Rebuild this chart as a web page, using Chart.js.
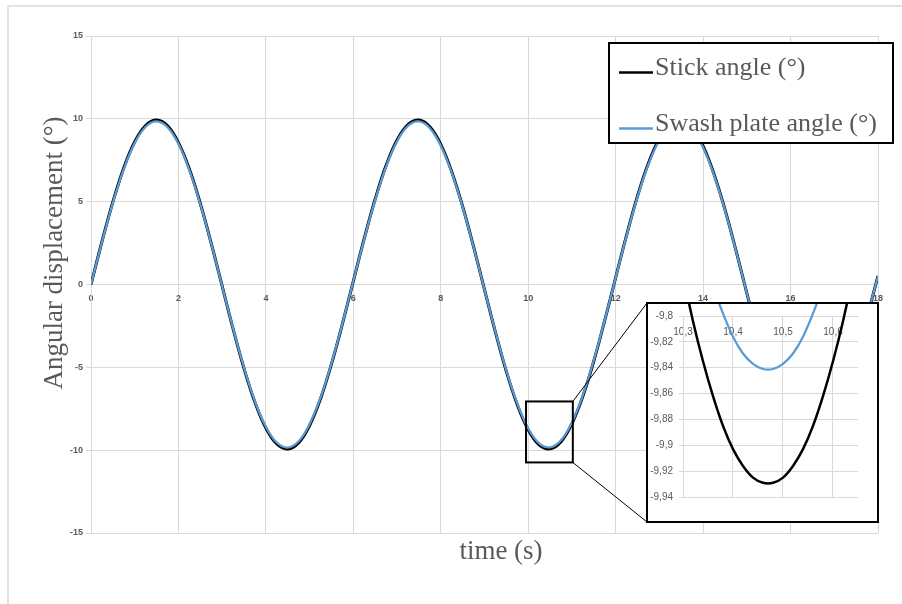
<!DOCTYPE html>
<html>
<head>
<meta charset="utf-8">
<script src="https://cdn.jsdelivr.net/npm/chart.js@4.4.1/dist/chart.umd.min.js"></script>
<style>
  html, body { margin: 0; padding: 0; background: #fff; width: 902px; height: 604px; overflow: hidden; }
  #frame { position: absolute; left: 7px; top: 5px; width: 910px; height: 620px; border-left: 2px solid #e2e2e2; border-top: 2px solid #e2e2e2; }
  #main { position: absolute; left: 0; top: 0; }
  #insetBox { position: absolute; left: 646px; top: 302px; width: 233px; height: 221px; box-sizing: border-box; border: 2px solid #000; background: #fff; }
  #inset { display: block; }
</style>
</head>
<body>
<div id="frame"></div>
<canvas id="main" width="902" height="604"></canvas>
<div id="insetBox"><canvas id="inset" width="229" height="217"></canvas></div>
<script>
// series names and axis titles
const seriesNames = ['Stick angle (°)', 'Swash plate angle (°)'];
const xTitle = 'time (s)';
const yTitle = 'Angular displacement (°)';

// main chart: time (s), sampled every 0.25 s
const time = [
  0, 0.25, 0.5, 0.75, 1, 1.25, 1.5, 1.75, 2, 2.25, 2.5, 2.75,
  3, 3.25, 3.5, 3.75, 4, 4.25, 4.5, 4.75, 5, 5.25, 5.5, 5.75,
  6, 6.25, 6.5, 6.75, 7, 7.25, 7.5, 7.75, 8, 8.25, 8.5, 8.75,
  9, 9.25, 9.5, 9.75, 10, 10.25, 10.5, 10.75, 11, 11.25, 11.5, 11.75,
  12, 12.25, 12.5, 12.75, 13, 13.25, 13.5, 13.75, 14, 14.25, 14.5, 14.75,
  15, 15.25, 15.5, 15.75, 16, 16.25, 16.5, 16.75, 17, 17.25, 17.5, 17.75, 18
];
const stickAngle = [
  0, 2.58, 4.98, 7.04, 8.62, 9.60, 9.93, 9.58, 8.56, 6.97, 4.89, 2.48,
  -0.10, -2.68, -5.07, -7.11, -8.67, -9.63, -9.93, -9.55, -8.51, -6.89, -4.80, -2.38,
  0.21, 2.78, 5.16, 7.19, 8.72, 9.65, 9.93, 9.52, 8.46, 6.81, 4.71, 2.28,
  -0.31, -2.88, -5.25, -7.26, -8.77, -9.68, -9.92, -9.49, -8.40, -6.74, -4.62, -2.17,
  0.42, 2.98, 5.34, 7.33, 8.82, 9.70, 9.92, 9.46, 8.35, 6.66, 4.52, 2.07,
  -0.52, -3.08, -5.42, -7.39, -8.86, -9.72, -9.91, -9.42, -8.29, -6.59, -4.43, -1.97, 0.52
];
const swashAngle = [
  0, 2.55, 4.93, 6.98, 8.54, 9.52, 9.84, 9.49, 8.49, 6.90, 4.85, 2.46,
  -0.10, -2.65, -5.02, -7.05, -8.59, -9.54, -9.84, -9.46, -8.43, -6.83, -4.76, -2.36,
  0.21, 2.75, 5.11, 7.12, 8.64, 9.57, 9.84, 9.43, 8.38, 6.75, 4.67, 2.26,
  -0.31, -2.85, -5.20, -7.19, -8.69, -9.59, -9.83, -9.40, -8.33, -6.68, -4.57, -2.15,
  0.41, 2.95, 5.29, 7.26, 8.74, 9.61, 9.83, 9.37, 8.27, 6.60, 4.48, 2.05,
  -0.51, -3.05, -5.37, -7.33, -8.78, -9.63, -9.82, -9.34, -8.21, -6.53, -4.39, -1.95, 0.50
];

// zoomed inset around the trough near t = 10.47 s
const insetTime = [10.28, 10.30, 10.32, 10.34, 10.36, 10.38, 10.40, 10.42, 10.44, 10.46,
                   10.48, 10.50, 10.52, 10.54, 10.56, 10.58, 10.60, 10.62, 10.64, 10.66];
const insetStick = [-9.728, -9.768, -9.804, -9.835, -9.862, -9.885, -9.903, -9.916, -9.925, -9.929,
                    -9.929, -9.925, -9.916, -9.903, -9.885, -9.862, -9.835, -9.804, -9.768, -9.728];
const insetSwash = [-9.647, -9.686, -9.720, -9.751, -9.777, -9.798, -9.816, -9.829, -9.837, -9.841,
                    -9.841, -9.837, -9.829, -9.816, -9.798, -9.777, -9.751, -9.720, -9.686, -9.647];

// region of the main chart marked by the zoom rectangle (data units)
const zoomBox = { xMin: 9.95, xMax: 11.02, yMin: -10.74, yMax: -7.06 };

const STICK_COLOR = '#000000';
const SWASH_COLOR = '#5B9BD5';
const GRID = '#d9d9d9';
const TICK_COLOR = '#595959';
const TEXT_COLOR = '#595959';
const SERIF = '"Liberation Serif", "Times New Roman", serif';
const SANS = '"Liberation Sans", Arial, sans-serif';

const toXY = (xs, ys) => xs.map((x, i) => ({ x: x, y: ys[i] }));
const comma = v => (Math.round(v * 100) / 100).toString().replace('.', ',');

// titles, legend, zoom rectangle and connectors for the main chart
const overlay = {
  id: 'overlay',
  afterDatasetsDraw(chart) {
    const ctx = chart.ctx;
    const xs = chart.scales.x, ys = chart.scales.y;
    const l = xs.getPixelForValue(zoomBox.xMin), r = xs.getPixelForValue(zoomBox.xMax);
    const t = ys.getPixelForValue(zoomBox.yMax), b = ys.getPixelForValue(zoomBox.yMin);
    ctx.save();
    ctx.strokeStyle = '#000';
    ctx.lineWidth = 2;
    ctx.strokeRect(l, t, r - l, b - t);
    ctx.lineWidth = 1;
    ctx.beginPath();
    ctx.moveTo(r, t); ctx.lineTo(647, 303);
    ctx.moveTo(r, b); ctx.lineTo(647, 522);
    ctx.stroke();
    ctx.restore();
  },
  afterDraw(chart) {
    const ctx = chart.ctx;
    ctx.save();
    // axis titles
    ctx.fillStyle = TEXT_COLOR;
    ctx.font = '27px ' + SERIF;
    ctx.textAlign = 'center';
    ctx.textBaseline = 'alphabetic';
    ctx.fillText(xTitle, 501, 559);
    ctx.translate(62, 253);
    ctx.rotate(-Math.PI / 2);
    ctx.fillText(yTitle, 0, 0);
    ctx.restore();

    // legend
    ctx.save();
    ctx.fillStyle = '#fff';
    ctx.fillRect(609, 43, 284, 100);
    ctx.strokeStyle = '#000';
    ctx.lineWidth = 2;
    ctx.strokeRect(609, 43, 284, 100);
    const rows = [75, 131];
    chart.data.datasets.forEach((ds, i) => {
      ctx.strokeStyle = ds.borderColor;
      ctx.lineWidth = 2.5;
      ctx.beginPath();
      ctx.moveTo(619, rows[i] - 2.5);
      ctx.lineTo(653, rows[i] - 2.5);
      ctx.stroke();
      ctx.fillStyle = TEXT_COLOR;
      ctx.font = '26px ' + SERIF;
      ctx.textAlign = 'left';
      ctx.textBaseline = 'alphabetic';
      ctx.fillText(ds.label, 655, rows[i]);
    });
    ctx.restore();
  }
};

new Chart(document.getElementById('main'), {
  type: 'line',
  data: {
    datasets: [
      { label: seriesNames[0], data: toXY(time, stickAngle), borderColor: STICK_COLOR,
        borderWidth: 3, pointRadius: 0, tension: 0.4, order: 1 },
      { label: seriesNames[1], data: toXY(time, swashAngle), borderColor: SWASH_COLOR,
        borderWidth: 2.25, pointRadius: 0, tension: 0.4, order: 0 }
    ]
  },
  options: {
    responsive: false,
    animation: false,
    events: [],
    layout: { padding: { left: 0, top: 36, right: 24, bottom: 71 } },
    plugins: { legend: { display: false }, tooltip: { enabled: false } },
    scales: {
      x: {
        type: 'linear', min: 0, max: 18, position: { y: 0 },
        afterFit: s => { s.height = 0; },
        ticks: { stepSize: 2, padding: 9, autoSkip: false, maxRotation: 0, color: TICK_COLOR,
                 font: { family: SANS, size: 9, weight: 'bold' } },
        grid: { color: GRID, drawTicks: false },
        border: { color: GRID }
      },
      y: {
        min: -15, max: 15,
        afterFit: s => { s.width = 91; },
        ticks: { stepSize: 5, padding: 3, color: TICK_COLOR,
                 font: { family: SANS, size: 9, weight: 'bold' } },
        grid: { color: GRID, tickLength: 5 },
        border: { color: GRID }
      }
    }
  },
  plugins: [overlay]
});

new Chart(document.getElementById('inset'), {
  type: 'line',
  data: {
    datasets: [
      { label: seriesNames[0], data: toXY(insetTime, insetStick), borderColor: STICK_COLOR,
        borderWidth: 2.5, pointRadius: 0, tension: 0.4, clip: false, order: 1 },
      { label: seriesNames[1], data: toXY(insetTime, insetSwash), borderColor: SWASH_COLOR,
        borderWidth: 2.25, pointRadius: 0, tension: 0.4, clip: false, order: 0 }
    ]
  },
  options: {
    responsive: false,
    animation: false,
    events: [],
    layout: { padding: { left: 0, top: 11, right: 19, bottom: 24 } },
    plugins: { legend: { display: false }, tooltip: { enabled: false } },
    scales: {
      x: {
        type: 'linear', position: { y: -9.8 }, min: 10.3, max: 10.65,
        afterFit: s => { s.height = 0; },
        ticks: { stepSize: 0.1, includeBounds: false, padding: 10, autoSkip: false, maxRotation: 0,
                 color: TICK_COLOR, font: { family: SANS, size: 10 }, callback: comma },
        grid: { color: GRID, drawTicks: false },
        border: { color: GRID }
      },
      y: {
        min: -9.94, max: -9.8,
        afterFit: s => { s.width = 35; },
        ticks: { stepSize: 0.02, includeBounds: false, padding: 6, color: TICK_COLOR,
                 font: { family: SANS, size: 10 }, callback: comma },
        grid: { color: GRID, tickLength: 4 },
        border: { color: GRID }
      }
    }
  }
});
</script>
</body>
</html>
